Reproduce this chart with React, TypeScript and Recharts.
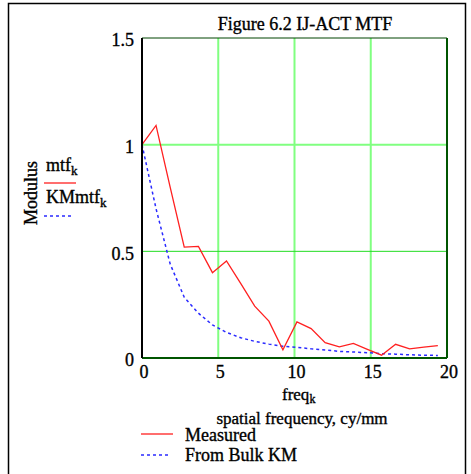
import React from "react";
import { LineChart, Line, XAxis, YAxis, CartesianGrid, ReferenceLine } from "recharts";

const freq = [0, 0.92, 1.85, 2.77, 3.7, 4.62, 5.54, 6.47, 7.39, 8.32, 9.24, 10.16, 11.09, 12.01, 12.94, 13.86, 14.78, 15.71, 16.63, 17.55, 18.48, 19.4];
const measured = [1.0, 1.09, 0.8, 0.52, 0.523, 0.4, 0.455, 0.35, 0.243, 0.173, 0.038, 0.169, 0.138, 0.072, 0.052, 0.068, 0.04, 0.013, 0.064, 0.043, 0.051, 0.058];
const kmMtf = [1.0, 0.7, 0.44, 0.285, 0.21, 0.155, 0.12, 0.095, 0.078, 0.065, 0.055, 0.05, 0.043, 0.038, 0.031, 0.028, 0.025, 0.02, 0.018, 0.015, 0.013, 0.012];
const xTicks = [0, 5, 10, 15, 20];
const yTicks = [0, 0.5, 1, 1.5];

const data = freq.map((f, i) => ({ freq: f, mtf: measured[i], km: kmMtf[i] }));

const FONT = "'Liberation Serif', 'Times New Roman', serif";
const TS = { stroke: "#000", strokeWidth: 0.35 };

export default function App() {
  return (
    <div style={{ position: "absolute", left: 0, top: 0, width: 471, height: 474, background: "#fff", overflow: "hidden" }}>
      <LineChart
        width={471}
        height={474}
        data={data}
        margin={{ top: 38, right: 24, left: 0, bottom: 86 }}
      >
        <CartesianGrid horizontal={false} vertical stroke="#80ff80" strokeWidth={2} />
        <ReferenceLine y={1} stroke="#80ff80" strokeWidth={2} />
        <ReferenceLine y={0.5} stroke="#22dd22" strokeWidth={1} />
        <ReferenceLine y={1.5} stroke="#004400" strokeWidth={1} />
        <ReferenceLine x={20} stroke="#005500" strokeWidth={2} />
        <XAxis
          dataKey="freq"
          type="number"
          domain={[0, 20]}
          ticks={xTicks}
          height={30}
          tickLine={false}
          tickSize={0}
          tickMargin={7}
          axisLine={{ stroke: "#005500", strokeWidth: 2 }}
          tick={{ fill: "#000", fontSize: 18, fontFamily: FONT, dx: 2, ...TS }}
          allowDataOverflow
        />
        <YAxis
          type="number"
          domain={[0, 1.5]}
          ticks={yTicks}
          width={142}
          tickLine={false}
          tickSize={0}
          tickMargin={8}
          axisLine={{ stroke: "#000", strokeWidth: 2 }}
          tick={{ fill: "#000", fontSize: 18, fontFamily: FONT, dy: 2, ...TS }}
          allowDataOverflow
        />
        <Line dataKey="km" stroke="#2a2aff" strokeWidth={1.5} strokeDasharray="3 3" dot={false} isAnimationActive={false} />
        <Line dataKey="mtf" stroke="#ff2020" strokeWidth={1.3} dot={false} isAnimationActive={false} />
      </LineChart>
      <svg width={471} height={474} style={{ position: "absolute", left: 0, top: 0, pointerEvents: "none" }} fontFamily={FONT} fill="#000">
        <path d="M8.5,474 V3.5 H465.5 V474" fill="none" stroke="#000" strokeWidth={1.5} />
        <g {...TS}>
          <text x={305} y={30} fontSize={18} textAnchor="middle">Figure 6.2 IJ-ACT MTF</text>
          <text x={37} y={193} fontSize={18} textAnchor="middle" transform="rotate(-90, 37, 193)">Modulus</text>
          <text x={46} y={171} fontSize={18}>mtf<tspan fontSize={13} dy={4}>k</tspan></text>
          <text x={46} y={203} fontSize={18}>KMmtf<tspan fontSize={13} dy={4}>k</tspan></text>
          <text x={282} y={400} fontSize={17}>freq<tspan fontSize={12} dy={3}>k</tspan></text>
          <text x={302} y={424} fontSize={17} textAnchor="middle">spatial frequency, cy/mm</text>
          <text x={185} y={441} fontSize={18}>Measured</text>
          <text x={185} y={461} fontSize={18}>From Bulk KM</text>
        </g>
        <line x1={44} y1={183} x2={76} y2={183} stroke="#ff2020" strokeWidth={1.3} />
        <line x1={44} y1={216} x2={72} y2={216} stroke="#2a2aff" strokeWidth={1.3} strokeDasharray="3 3" />
        <line x1={141} y1={434} x2={173} y2={434} stroke="#ff2020" strokeWidth={1.3} />
        <line x1={141} y1={455} x2={170} y2={455} stroke="#2a2aff" strokeWidth={1.3} strokeDasharray="3 3" />
      </svg>
    </div>
  );
}
